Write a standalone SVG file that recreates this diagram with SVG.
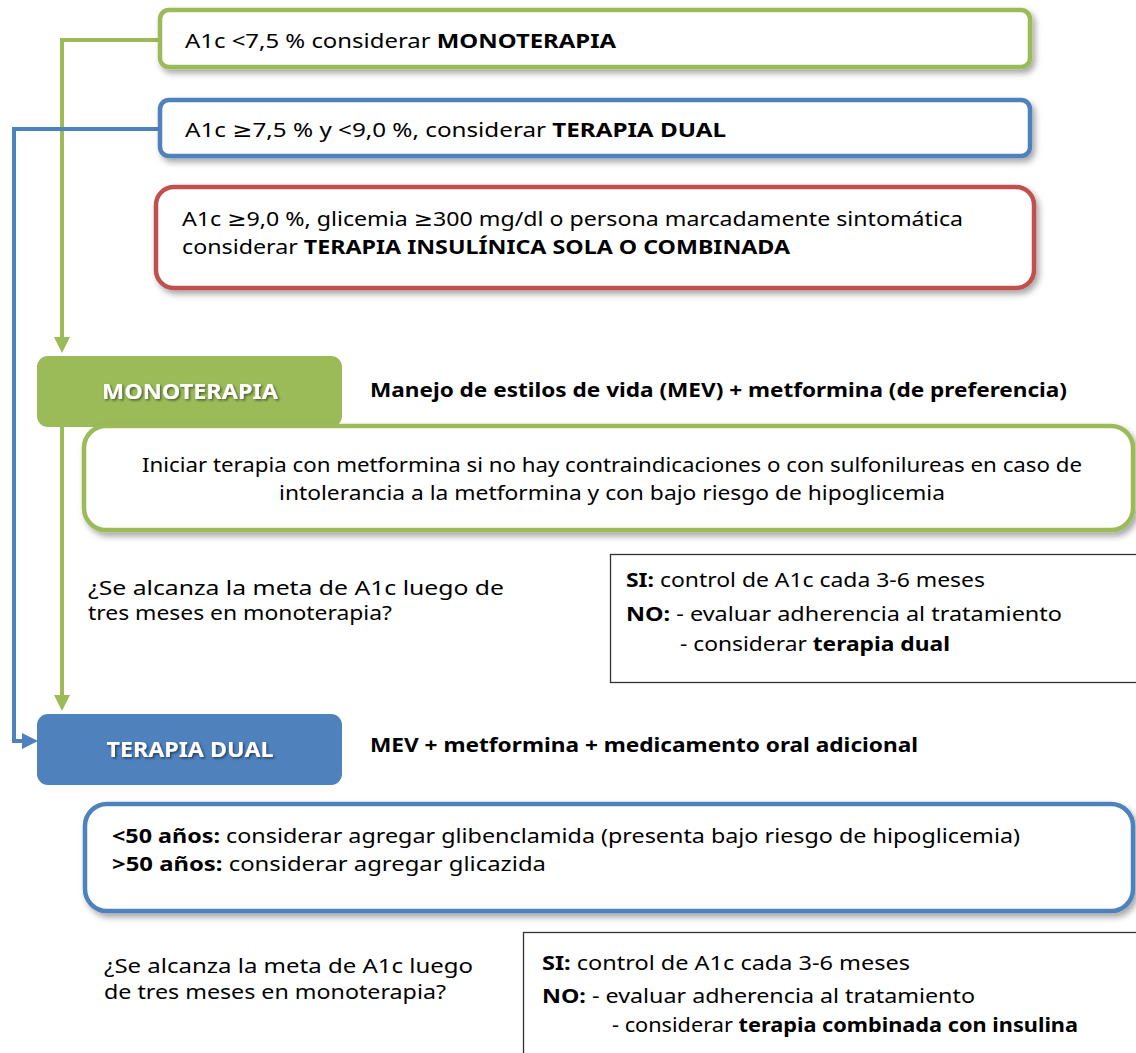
<svg xmlns="http://www.w3.org/2000/svg" width="1136" height="1053" viewBox="0 0 1136 1053">
<defs>
<filter id="sh" x="-5%" y="-20%" width="115%" height="150%">
<feDropShadow dx="3" dy="4" stdDeviation="3" flood-color="#000" flood-opacity="0.35"/>
</filter>
<filter id="tsh" x="-10%" y="-30%" width="120%" height="160%">
<feDropShadow dx="1.5" dy="1.5" stdDeviation="1" flood-color="#000" flood-opacity="0.5"/>
</filter>
</defs>
<style>
text{font-family:"Noto Sans","DejaVu Sans",sans-serif;font-size:20px;fill:#000}
.b{font-weight:bold}
.hd{font-weight:bold;fill:#fff;font-size:21px}
.box{fill:#fff;stroke-width:4.5}
.g{stroke:#9BBB59}.bl{stroke:#4F81BD}.r{stroke:#C0504D}
.plain{fill:#fff;stroke:#333;stroke-width:1.3}
.con{fill:none;stroke-width:4}
</style>
<rect width="1136" height="1053" fill="#fff"/>
<g id="connectors">
<path class="con" d="M160,40 H62 V339" stroke="#9BBB59"/>
<polygon points="54,337 70,337 62,353" fill="#9BBB59"/>
<path class="con" d="M62,426 V697" stroke="#9BBB59"/>
<polygon points="54,695 70,695 62,711" fill="#9BBB59"/>
<path class="con" d="M160,129 H14 V741 H24" stroke="#4F81BD"/>
<polygon points="22,733 22,749 38,741" fill="#4F81BD"/>
</g>
<g id="n1">
<rect class="box g" x="160" y="10" width="870" height="57" rx="9" filter="url(#sh)"/>
<text x="185" y="48" textLength="431" lengthAdjust="spacingAndGlyphs">A1c &lt;7,5 % considerar <tspan class="b">MONOTERAPIA</tspan></text>
</g>
<g id="n2">
<rect class="box bl" x="160" y="100" width="870" height="56" rx="9" filter="url(#sh)"/>
<text x="185" y="137" textLength="541" lengthAdjust="spacingAndGlyphs">A1c ≥7,5 % y &lt;9,0 %, considerar <tspan class="b">TERAPIA DUAL</tspan></text>
</g>
<g id="n3">
<rect class="box r" x="156" y="187" width="878" height="101" rx="18" filter="url(#sh)"/>
<text x="182" y="226" textLength="781" lengthAdjust="spacingAndGlyphs">A1c ≥9,0 %, glicemia ≥300 mg/dl o persona marcadamente sintomática</text>
<text x="182" y="254" textLength="608" lengthAdjust="spacingAndGlyphs">considerar <tspan class="b">TERAPIA INSULÍNICA SOLA O COMBINADA</tspan></text>
</g>
<g id="monoterapia">
<rect x="37" y="356" width="305" height="71" rx="11" fill="#9BBB59"/>
<text class="hd" x="190" y="399" text-anchor="middle" textLength="176" lengthAdjust="spacingAndGlyphs" filter="url(#tsh)">MONOTERAPIA</text>
<text class="b" x="370" y="397" textLength="697" lengthAdjust="spacingAndGlyphs">Manejo de estilos de vida (MEV) + metformina (de preferencia)</text>
</g>
<g id="mono-detail">
<rect class="box g" x="84" y="426" width="1049" height="104" rx="22" filter="url(#sh)"/>
<text x="142" y="472" textLength="940" lengthAdjust="spacingAndGlyphs">Iniciar terapia con metformina si no hay contraindicaciones o con sulfonilureas en caso de</text>
<text x="279" y="500" textLength="666" lengthAdjust="spacingAndGlyphs">intolerancia a la metformina y con bajo riesgo de hipoglicemia</text>
</g>
<g id="q1">
<text x="88" y="595" textLength="416" lengthAdjust="spacingAndGlyphs">¿Se alcanza la meta de A1c luego de</text>
<text x="88" y="620" textLength="304" lengthAdjust="spacingAndGlyphs">tres meses en monoterapia?</text>
</g>
<g id="a1">
<rect class="plain" x="610.5" y="554.5" width="540" height="128"/>
<text x="626" y="587" textLength="359" lengthAdjust="spacingAndGlyphs"><tspan class="b">SI:</tspan> control de A1c cada 3-6 meses</text>
<text x="626" y="621" textLength="436" lengthAdjust="spacingAndGlyphs"><tspan class="b">NO:</tspan> - evaluar adherencia al tratamiento</text>
<text x="680" y="651" textLength="270" lengthAdjust="spacingAndGlyphs">- considerar <tspan class="b">terapia dual</tspan></text>
</g>
<g id="dual">
<rect x="37" y="714" width="305" height="71" rx="11" fill="#4F81BD"/>
<text class="hd" x="190" y="757" text-anchor="middle" textLength="167" lengthAdjust="spacingAndGlyphs" filter="url(#tsh)">TERAPIA DUAL</text>
<text class="b" x="370" y="752" textLength="548" lengthAdjust="spacingAndGlyphs">MEV + metformina + medicamento oral adicional</text>
</g>
<g id="dual-detail">
<rect class="box bl" x="85" y="804" width="1048" height="107" rx="22" filter="url(#sh)"/>
<text x="112" y="843" textLength="908" lengthAdjust="spacingAndGlyphs"><tspan class="b">&lt;50 años:</tspan> considerar agregar glibenclamida (presenta bajo riesgo de hipoglicemia)</text>
<text x="112" y="871" textLength="434" lengthAdjust="spacingAndGlyphs"><tspan class="b">&gt;50 años:</tspan> considerar agregar glicazida</text>
</g>
<g id="q2">
<text x="104" y="973" textLength="369" lengthAdjust="spacingAndGlyphs">¿Se alcanza la meta de A1c luego</text>
<text x="104" y="999" textLength="342" lengthAdjust="spacingAndGlyphs">de tres meses en monoterapia?</text>
</g>
<g id="a2">
<rect class="plain" x="523.5" y="932.5" width="630" height="140"/>
<text x="542" y="970" textLength="368" lengthAdjust="spacingAndGlyphs"><tspan class="b">SI:</tspan> control de A1c cada 3-6 meses</text>
<text x="542" y="1003" textLength="433" lengthAdjust="spacingAndGlyphs"><tspan class="b">NO:</tspan> - evaluar adherencia al tratamiento</text>
<text x="612" y="1032" textLength="466" lengthAdjust="spacingAndGlyphs">- considerar <tspan class="b">terapia combinada con insulina</tspan></text>
</g>
</svg>
